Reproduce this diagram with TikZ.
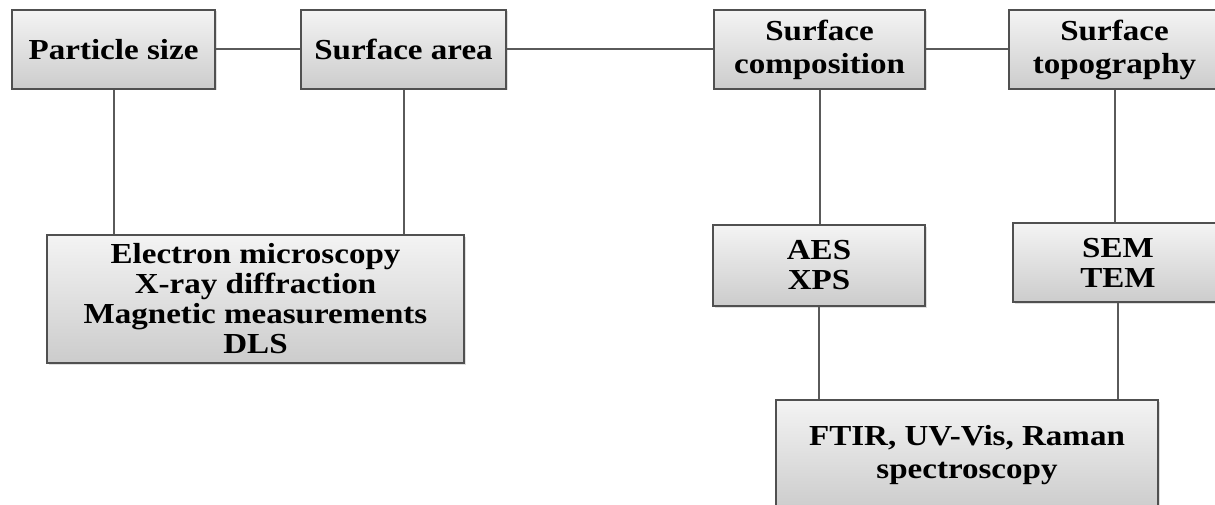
\documentclass[tikz,border=0pt]{standalone}
\usepackage{fontspec}
\setmainfont{Liberation Serif}[FakeStretch=1.14]
\usetikzlibrary{shadows}
\definecolor{edgegray}{HTML}{505050}
\definecolor{linegray}{HTML}{5a5a5a}
\tikzset{
  boxnode/.style={draw=edgegray, line width=1.6pt, rectangle, align=center,
    top color=gray!9, bottom color=gray!40,
    drop shadow={opacity=0.25, shadow xshift=1.5pt, shadow yshift=-1.5pt},
    font=\fontsize{29}{33}\selectfont\bfseries, inner sep=0pt},
  tight/.style={font=\fontsize{29}{30}\selectfont\bfseries},
  link/.style={draw=linegray, line width=2pt}
}
\begin{document}
\begin{tikzpicture}[x=1pt,y=-1pt]
\useasboundingbox (0,0) rectangle (1215,505);
\clip (0,0) rectangle (1215,505);
\node[boxnode, minimum width=203pt, minimum height=79pt] (ps) at (113.5,49.5) {Particle size};
\node[boxnode, minimum width=205pt, minimum height=79pt] (sa) at (403.5,49.5) {Surface area};
\node[boxnode, minimum width=211pt, minimum height=79pt] (sc) at (819.5,49.5) {Surface\\composition};
\node[boxnode, minimum width=211pt, minimum height=79pt] (st) at (1114.5,49.5) {Surface\\topography};
\node[boxnode, tight, minimum width=417pt, minimum height=128pt] (big) at (255.5,299) {Electron microscopy\\X-ray diffraction\\Magnetic measurements\\DLS};
\node[boxnode, tight, minimum width=212pt, minimum height=81pt] (aes) at (819,265.5) {AES\\XPS};
\node[boxnode, tight, minimum width=210pt, minimum height=79pt] (sem) at (1118,262.5) {SEM\\TEM};
\node[boxnode, minimum width=382pt, minimum height=110pt] (ftir) at (967,455) {FTIR, UV-Vis, Raman\\spectroscopy};
\draw[link] (ps.east) -- (sa.west);
\draw[link] (sa.east) -- (sc.west);
\draw[link] (sc.east) -- (st.west);
\draw[link] (ps.south) -- (ps.south |- big.north);
\draw[link] (sa.south) -- (sa.south |- big.north);
\draw[link] (sc.south) -- (sc.south |- aes.north);
\draw[link] (st.south) -- (st.south |- sem.north);
\draw[link] (aes.south) -- (aes.south |- ftir.north);
\draw[link] (sem.south) -- (sem.south |- ftir.north);
\end{tikzpicture}
\end{document}
